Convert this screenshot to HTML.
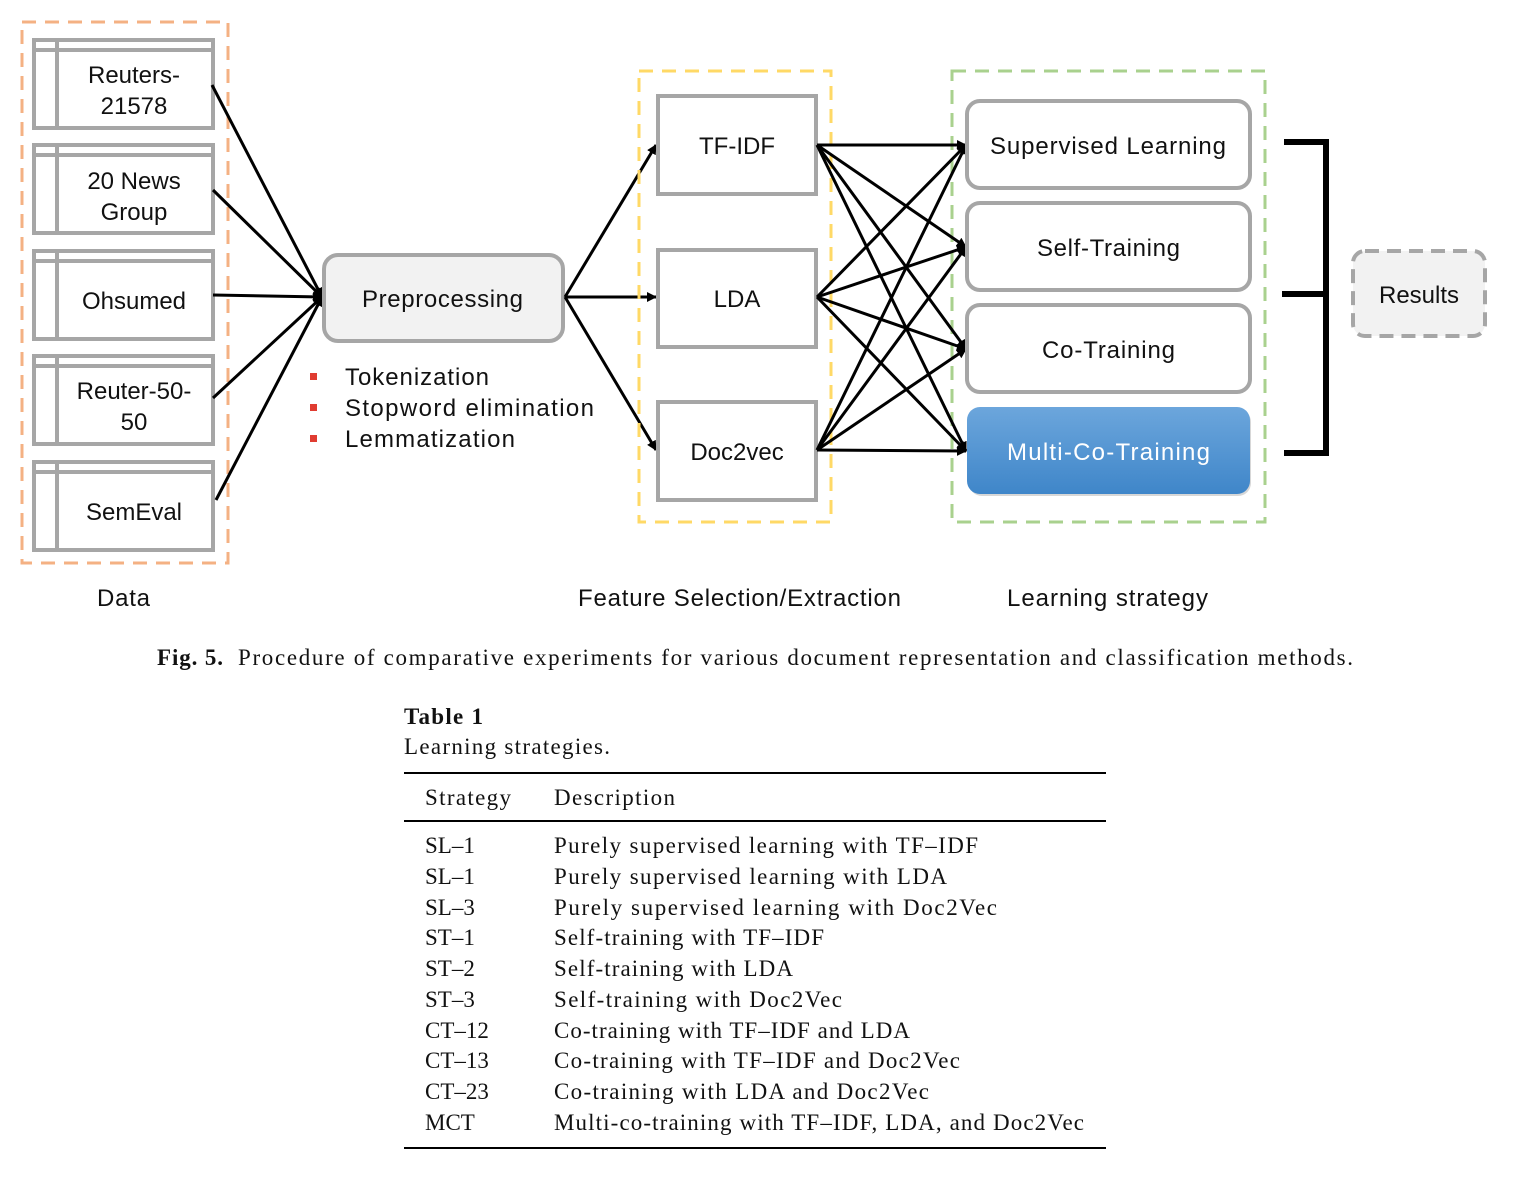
<!DOCTYPE html>
<html><head><meta charset="utf-8"><style>
html,body{margin:0;padding:0;background:#fff;}
svg{display:block;}
.s{font-family:"Liberation Sans","DejaVu Sans",sans-serif;font-size:24px;fill:#111;}
.r{font-family:"Liberation Serif",serif;font-size:23px;fill:#111;}
</style></head><body>
<svg width="1518" height="1182" viewBox="0 0 1518 1182" xmlns="http://www.w3.org/2000/svg">
<defs>
<marker id="a" markerWidth="10" markerHeight="10" refX="9" refY="5" orient="auto" markerUnits="userSpaceOnUse">
<path d="M0,0 L10,5 L0,10 z" fill="#000"/></marker>
<linearGradient id="g" x1="0" y1="0" x2="0" y2="1"><stop offset="0" stop-color="#6ca6dc"/><stop offset="1" stop-color="#3f86c9"/></linearGradient>
</defs>
<rect x="22" y="22" width="206" height="541" fill="none" stroke="#f4b183" stroke-width="3" stroke-dasharray="14,9"/>
<g fill="none" stroke="#a6a6a6" stroke-width="4">
<rect x="34" y="40" width="179" height="88"/><line x1="34" y1="50" x2="213" y2="50"/><line x1="57" y1="40" x2="57" y2="128"/>
<rect x="34" y="145" width="179" height="88"/><line x1="34" y1="155" x2="213" y2="155"/><line x1="57" y1="145" x2="57" y2="233"/>
<rect x="34" y="251" width="179" height="88"/><line x1="34" y1="261" x2="213" y2="261"/><line x1="57" y1="251" x2="57" y2="339"/>
<rect x="34" y="356" width="179" height="88"/><line x1="34" y1="366" x2="213" y2="366"/><line x1="57" y1="356" x2="57" y2="444"/>
<rect x="34" y="462" width="179" height="88"/><line x1="34" y1="472" x2="213" y2="472"/><line x1="57" y1="462" x2="57" y2="550"/>
</g>
<g class="s" text-anchor="middle">
<text x="134" y="83">Reuters-</text><text x="134" y="114">21578</text>
<text x="134" y="189">20 News</text><text x="134" y="220">Group</text>
<text x="134" y="309">Ohsumed</text>
<text x="134" y="399">Reuter-50-</text><text x="134" y="430">50</text>
<text x="134" y="520">SemEval</text>
</g>
<g stroke="#000" stroke-width="3" marker-end="url(#a)">
<line x1="212" y1="85" x2="322" y2="297"/>
<line x1="213" y1="190" x2="322" y2="297"/>
<line x1="213" y1="295" x2="322" y2="297"/>
<line x1="213" y1="398" x2="322" y2="297"/>
<line x1="216" y1="500" x2="322" y2="297"/>
</g>
<rect x="324" y="255" width="239" height="86" rx="14" fill="#f2f2f2" stroke="#a6a6a6" stroke-width="4"/>
<text class="s" x="362" y="307" textLength="161">Preprocessing</text>
<g fill="#e03c31"><rect x="310" y="373" width="7" height="7"/><rect x="310" y="404" width="7" height="7"/><rect x="310" y="435" width="7" height="7"/></g>
<g class="s"><text x="345" y="385" textLength="144">Tokenization</text><text x="345" y="416" textLength="249">Stopword elimination</text><text x="345" y="447" textLength="170">Lemmatization</text></g>
<g stroke="#000" stroke-width="3" marker-end="url(#a)">
<line x1="565" y1="297" x2="656" y2="145"/>
<line x1="565" y1="297" x2="656" y2="297"/>
<line x1="565" y1="297" x2="656" y2="450"/>
</g>
<rect x="639" y="71" width="192" height="451" fill="none" stroke="#ffd966" stroke-width="3" stroke-dasharray="14,9"/>
<g fill="#fff" stroke="#a6a6a6" stroke-width="4">
<rect x="658" y="96" width="158" height="98"/><rect x="658" y="250" width="158" height="97"/><rect x="658" y="402" width="158" height="98"/>
</g>
<g class="s" text-anchor="middle"><text x="737" y="154">TF-IDF</text><text x="737" y="307">LDA</text><text x="737" y="460">Doc2vec</text></g>
<rect x="952" y="71" width="313" height="451" fill="none" stroke="#a9d18e" stroke-width="3" stroke-dasharray="14,9"/>
<g stroke="#000" stroke-width="3" marker-end="url(#a)">
<line x1="817" y1="145" x2="966" y2="145"/><line x1="817" y1="145" x2="966" y2="247"/><line x1="817" y1="145" x2="966" y2="349"/><line x1="817" y1="145" x2="966" y2="451"/>
<line x1="817" y1="297" x2="966" y2="145"/><line x1="817" y1="297" x2="966" y2="247"/><line x1="817" y1="297" x2="966" y2="349"/><line x1="817" y1="297" x2="966" y2="451"/>
<line x1="817" y1="450" x2="966" y2="145"/><line x1="817" y1="450" x2="966" y2="247"/><line x1="817" y1="450" x2="966" y2="349"/><line x1="817" y1="450" x2="966" y2="451"/>
</g>
<g fill="#fff" stroke="#a6a6a6" stroke-width="4">
<rect x="967" y="101" width="283" height="87" rx="13"/>
<rect x="967" y="203" width="283" height="87" rx="13"/>
<rect x="967" y="305" width="283" height="87" rx="13"/>
</g>
<rect x="969" y="409" width="282" height="87" rx="13" fill="#b0b0b0" opacity="0.5"/>
<rect x="967" y="407" width="283" height="87" rx="13" fill="url(#g)"/>
<g class="s"><text x="990" y="154" textLength="236">Supervised Learning</text><text x="1037" y="256" textLength="143">Self-Training</text><text x="1042" y="358" textLength="133">Co-Training</text><text x="1007" y="460" textLength="203" style="fill:#fff">Multi-Co-Training</text></g>
<g stroke="#000" stroke-width="6" fill="none">
<polyline points="1284,142 1326,142 1326,453 1284,453"/><line x1="1282" y1="294" x2="1326" y2="294"/>
</g>
<rect x="1353" y="251" width="132" height="85" rx="12" fill="#f2f2f2" stroke="#a6a6a6" stroke-width="4" stroke-dasharray="14,8"/>
<text class="s" x="1419" y="303" text-anchor="middle">Results</text>
<g class="s"><text x="97" y="606" textLength="53">Data</text><text x="578" y="606" textLength="323">Feature Selection/Extraction</text><text x="1007" y="606" textLength="201">Learning strategy</text></g>
<text class="r" x="157" y="665" font-weight="bold" textLength="66">Fig. 5.</text>
<text class="r" x="238" y="665" textLength="1115">Procedure of comparative experiments for various document representation and classification methods.</text>
<text class="r" x="404" y="724" font-weight="bold" textLength="79">Table 1</text>
<text class="r" x="404" y="754" textLength="206">Learning strategies.</text>
<g stroke="#000" stroke-width="2"><line x1="404" y1="773" x2="1106" y2="773"/><line x1="404" y1="821" x2="1106" y2="821"/><line x1="404" y1="1148" x2="1106" y2="1148"/></g>
<g class="r">
<text x="425" y="805" textLength="86">Strategy</text><text x="554" y="805" textLength="121">Description</text>
<text x="425" y="853">SL–1</text><text x="554" y="853" textLength="424">Purely supervised learning with TF–IDF</text>
<text x="425" y="884">SL–1</text><text x="554" y="884" textLength="393">Purely supervised learning with LDA</text>
<text x="425" y="915">SL–3</text><text x="554" y="915" textLength="443">Purely supervised learning with Doc2Vec</text>
<text x="425" y="945">ST–1</text><text x="554" y="945" textLength="270">Self-training with TF–IDF</text>
<text x="425" y="976">ST–2</text><text x="554" y="976" textLength="239">Self-training with LDA</text>
<text x="425" y="1007">ST–3</text><text x="554" y="1007" textLength="288">Self-training with Doc2Vec</text>
<text x="425" y="1038">CT–12</text><text x="554" y="1038" textLength="356">Co-training with TF–IDF and LDA</text>
<text x="425" y="1068">CT–13</text><text x="554" y="1068" textLength="406">Co-training with TF–IDF and Doc2Vec</text>
<text x="425" y="1099">CT–23</text><text x="554" y="1099" textLength="375">Co-training with LDA and Doc2Vec</text>
<text x="425" y="1130">MCT</text><text x="554" y="1130" textLength="530">Multi-co-training with TF–IDF, LDA, and Doc2Vec</text>
</g>
</svg>
</body></html>
